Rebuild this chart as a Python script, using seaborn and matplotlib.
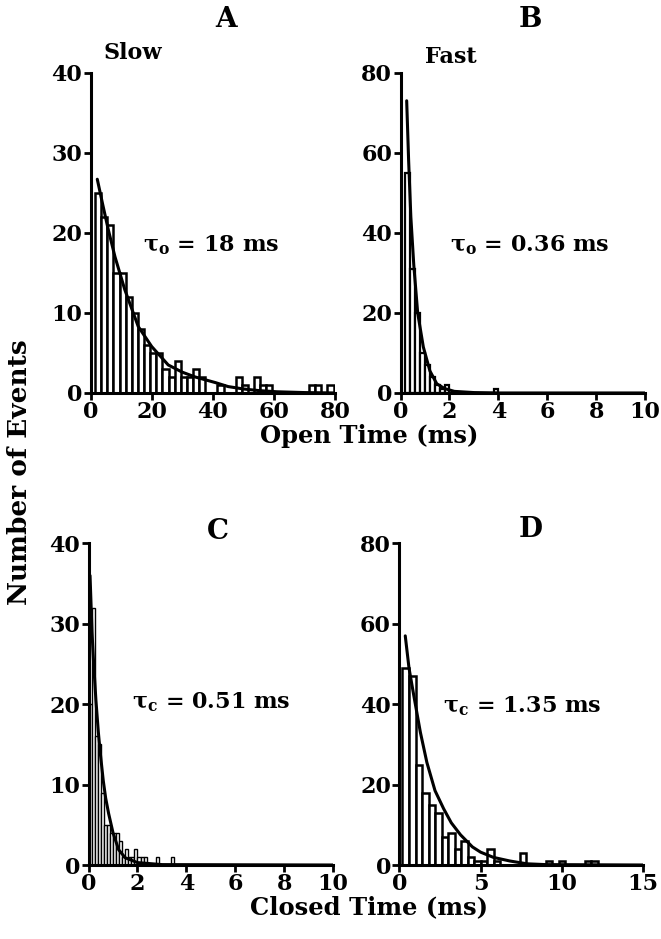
import numpy as np
import pandas as pd
import matplotlib
matplotlib.use("Agg")
import matplotlib.pyplot as plt
import seaborn as sns

# A: open times, slow mode (2 ms bins starting at 1.5 ms)
a_start, a_width = 1.5, 2.0
a_counts = [25, 22, 21, 15, 15, 12, 10, 8, 6, 5,
            5, 3, 2, 4, 2, 2, 3, 2, 0, 0,
            1, 0, 0, 2, 1, 0, 2, 1, 1, 0,
            0, 0, 0, 0, 0, 1, 1, 0, 1]
a_fit_t = [2.2, 4, 5.8, 8, 11.2, 15.6, 20, 25.4, 30, 34.2, 40.8, 45, 50, 55, 61, 70, 80]
a_fit_n = [26.7, 23.5, 20.4, 17, 12.9, 8.3, 5.8, 3.5, 2.6, 2.0, 1.3, 0.8, 0.5, 0.3, 0.15, 0.05, 0]

# B: open times, fast mode (0.2 ms bins starting at 0.2 ms)
b_start, b_width = 0.2, 0.2
b_counts = [55, 31, 20, 10, 7, 4, 2, 1, 2, 0, 0, 0, 0, 0, 0, 0, 0, 0, 1]
b_fit_t = [0.25, 0.33, 0.42, 0.54, 0.7, 0.93, 1.2, 1.48, 1.8, 2.2, 3, 4, 10]
b_fit_n = [73, 58, 44, 32, 20, 11.5, 5.5, 2.3, 1.1, 0.4, 0.1, 0, 0]

# C: closed times, slow mode (0.125 ms bins)
c_start, c_width = 0.0, 0.125
c_counts = [20, 32, 16, 15, 9, 5, 5, 4, 4, 4, 3, 1, 2, 1, 1, 2, 1, 1, 1, 0,
            0, 0, 1, 0, 0, 0, 0, 1]
c_fit_t = [0.06, 0.14, 0.2, 0.3, 0.4, 0.48, 0.6, 0.7, 0.82, 1.0, 1.23, 1.5, 2, 3, 10]
c_fit_n = [36, 29, 25.5, 20.5, 16.5, 13.9, 10.5, 8.3, 6.4, 4, 1.9, 0.9, 0.3, 0.05, 0]

# D: closed times, fast mode (0.4 ms bins starting at 0.2 ms)
d_start, d_width = 0.2, 0.4
d_counts = [49, 47, 25, 18, 15, 13, 7, 8, 4, 6, 2, 1, 1, 4, 1,
            0, 0, 0, 3, 0, 0, 0, 1, 0, 1, 0, 0, 0, 1, 1]
d_fit_t = [0.37, 0.6, 0.88, 1.3, 1.7, 2.2, 2.73, 3.2, 3.77, 4.5, 5, 5.79, 6.8, 7.85, 9, 15]
d_fit_n = [57, 49, 42.5, 33, 25.5, 18.5, 14, 10.5, 7.5, 4.5, 3.2, 1.9, 1, 0.3, 0.1, 0]

sns.set_style("ticks")
plt.rcParams['font.family'] = ['DejaVu Serif']
plt.rcParams['font.weight'] = 'bold'
plt.rcParams['mathtext.fontset'] = 'dejavuserif'
plt.rcParams['mathtext.default'] = 'bf'
for k in ['text.color', 'xtick.color', 'ytick.color', 'axes.edgecolor', 'axes.labelcolor']:
    plt.rcParams[k] = 'black'


def panel(ax, start, width, counts, fit_t, fit_n, xmax, xticks, ymax, yticks, lw):
    edges = [start + width * i for i in range(len(counts) + 1)]
    df = pd.DataFrame({'t': [e + width / 2 for e in edges[:-1]], 'n': counts})
    sns.histplot(data=df, x='t', weights='n', bins=edges, ax=ax,
                 color='white', edgecolor='black', linewidth=lw, alpha=1)
    sns.lineplot(x=fit_t, y=fit_n, ax=ax, color='black', linewidth=2.2)
    ax.set_xlim(0, xmax)
    ax.set_ylim(0, ymax)
    ax.set_xticks(xticks)
    ax.set_yticks(yticks)
    ax.set_xlabel('')
    ax.set_ylabel('')
    sns.despine(ax=ax)
    for s in ['left', 'bottom']:
        ax.spines[s].set_linewidth(2.2)
    ax.tick_params(direction='out', length=5, width=2, labelsize=16, pad=1)


fig = plt.figure(figsize=(6.61, 9.39), dpi=100)
axA = fig.add_axes([0.137, 0.5815, 0.370, 0.341])
axB = fig.add_axes([0.606, 0.5815, 0.370, 0.341])
axC = fig.add_axes([0.134, 0.0788, 0.370, 0.3425])
axD = fig.add_axes([0.604, 0.0788, 0.369, 0.3425])

panel(axA, a_start, a_width, a_counts, a_fit_t, a_fit_n, 80, [0, 20, 40, 60, 80], 40, [0, 10, 20, 30, 40], 1.8)
panel(axB, b_start, b_width, b_counts, b_fit_t, b_fit_n, 10, [0, 2, 4, 6, 8, 10], 80, [0, 20, 40, 60, 80], 1.6)
panel(axC, c_start, c_width, c_counts, c_fit_t, c_fit_n, 10, [0, 2, 4, 6, 8, 10], 40, [0, 10, 20, 30, 40], 1.0)
panel(axD, d_start, d_width, d_counts, d_fit_t, d_fit_n, 15, [0, 5, 10, 15], 80, [0, 20, 40, 60, 80], 1.8)

# panel letters and annotations
fig.text(0.342, 0.979, 'A', ha='center', va='center', fontsize=20)
fig.text(0.802, 0.979, 'B', ha='center', va='center', fontsize=20)
fig.text(0.329, 0.4345, 'C', ha='center', va='center', fontsize=20)
fig.text(0.803, 0.4356, 'D', ha='center', va='center', fontsize=20)
fig.text(0.156, 0.9436, 'Slow', ha='left', va='center', fontsize=16)
fig.text(0.643, 0.9388, 'Fast', ha='left', va='center', fontsize=16)

fig.text(0.216, 0.739, 'τ$_{o}$ = 18 ms', ha='left', va='center', fontsize=16)
fig.text(0.681, 0.739, 'τ$_{o}$ = 0.36 ms', ha='left', va='center', fontsize=16)
fig.text(0.200, 0.2524, 'τ$_{c}$ = 0.51 ms', ha='left', va='center', fontsize=16)
fig.text(0.670, 0.248, 'τ$_{c}$ = 1.35 ms', ha='left', va='center', fontsize=16)

fig.text(0.558, 0.536, 'Open Time (ms)', ha='center', va='center', fontsize=17.5)
fig.text(0.558, 0.034, 'Closed Time (ms)', ha='center', va='center', fontsize=17.5)
fig.text(0.03, 0.497, 'Number of Events', ha='center', va='center', rotation=90, fontsize=19)

fig.savefig('out.png', dpi=100)
